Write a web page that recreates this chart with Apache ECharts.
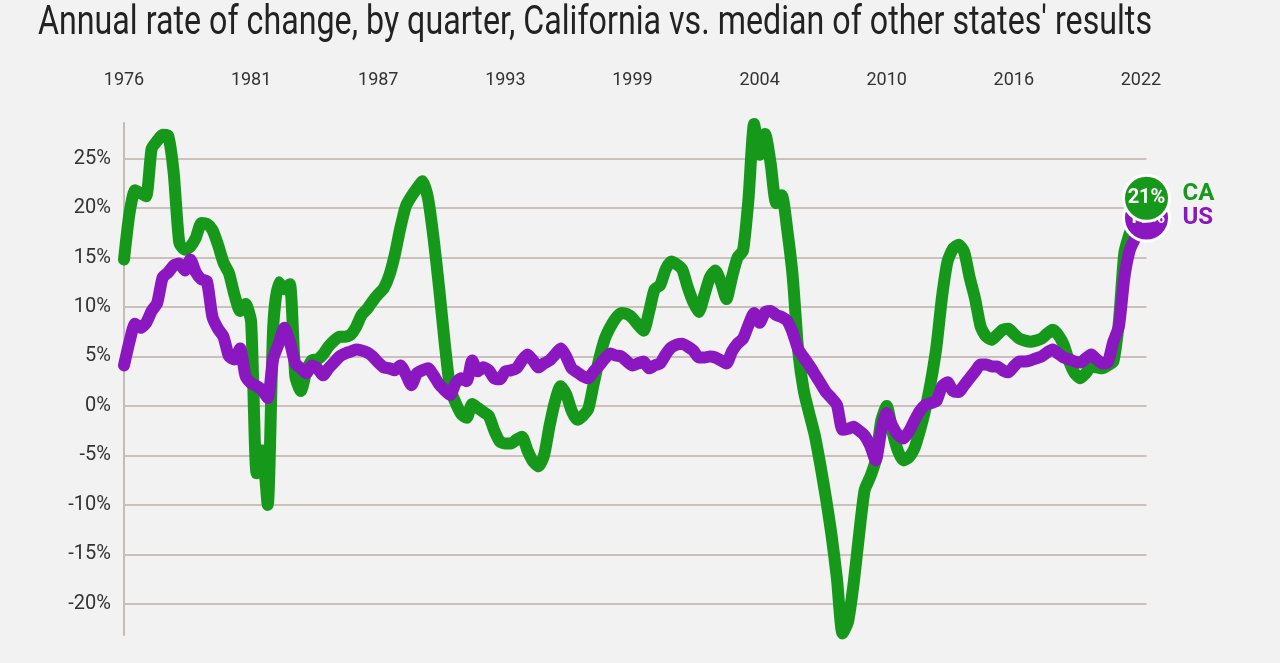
<!DOCTYPE html>
<html>
<head>
<meta charset="utf-8">
<script src="https://cdn.jsdelivr.net/npm/echarts@6/dist/echarts.min.js"></script>
<style>
  html, body { margin: 0; padding: 0; background: #f2f2f2; }
  #chart { width: 1280px; height: 663px; }
</style>
</head>
<body>
<div id="chart"></div>
<script>
// quarterly, 1976 Q1 .. 2022 Q2
const firstYear = 1976;
const quarterCount = 186;
const quarters = [];
for (let i = 0; i < quarterCount; i++) {
    quarters.push((firstYear + Math.floor(i / 4)) + ' Q' + (i % 4 + 1));
}

// California, annual % change
const caValues = [
    14.8, 19.5, 21.8, 21.5, 21.2, 26.0, 26.8, 27.4, 27.3, 23.5,
    16.5, 15.8, 16.1, 17.0, 18.5, 18.4, 17.8, 16.3, 14.5, 13.4,
    11.2, 9.6, 10.3, 8.5, -6.8, -4.5, -10.0, 8.0, 12.5, 11.8,
    12.3, 3.0, 1.5, 3.5, 4.6, 4.7, 5.2, 6.0, 6.6, 7.0,
    7.0, 7.2, 8.0, 9.2, 9.8, 10.6, 11.3, 11.9, 13.2, 15.3,
    18.0, 20.2, 21.2, 22.0, 22.7, 21.0, 17.0, 12.0, 6.5, 1.8,
    0.3, -0.8, -1.2, 0.2, -0.2, -0.6, -1.0, -2.5, -3.6, -3.8,
    -3.8, -3.4, -3.1, -4.5, -5.6, -6.1, -5.0, -2.0, 0.5, 2.0,
    1.2, -0.5, -1.4, -1.0, -0.3, 2.3, 4.8, 6.8, 8.0, 8.9,
    9.4, 9.3, 8.9, 8.2, 7.6, 9.5, 11.8, 12.2, 13.8, 14.6,
    14.3, 13.8, 12.0, 10.5, 9.5, 11.2, 13.0, 13.7, 12.5, 10.8,
    13.0, 15.0, 15.7, 21.0, 28.5, 25.4, 27.5, 24.5, 20.5, 21.3,
    17.8, 13.0, 5.5, 1.5, -0.8, -3.0, -6.0, -9.3, -13.0, -17.5,
    -23.0, -21.8, -18.0, -13.0, -8.5, -7.2, -5.5, -1.5, 0.0, -2.5,
    -4.5, -5.5, -5.2, -4.3, -2.5, -0.3, 2.5, 6.0, 11.0, 14.6,
    15.9, 16.3, 15.6, 13.0, 10.8, 8.0, 7.0, 6.7, 7.2, 7.7,
    7.8, 7.3, 6.8, 6.6, 6.5, 6.6, 6.8, 7.3, 7.7, 7.2,
    6.2, 4.5, 3.3, 2.8, 3.3, 4.0, 3.9, 3.8, 4.1, 4.5,
    8.5, 15.5, 17.5, 19.0, 20.2, 21.0
];

// median of other states, annual % change
const usValues = [
    4.1, 6.5, 8.3, 7.9, 8.4, 9.6, 10.4, 13.0, 13.5, 14.2,
    14.4, 13.7, 14.8, 13.5, 12.8, 12.6, 9.0, 7.8, 7.0, 5.0,
    4.7, 5.8, 3.0, 2.3, 2.0, 1.6, 0.8, 4.8, 6.3, 7.9,
    6.5, 4.3, 3.8, 3.3, 4.1, 3.8, 3.1, 3.8, 4.4, 5.0,
    5.3, 5.5, 5.7, 5.6, 5.4, 5.0, 4.4, 3.9, 3.8, 3.6,
    4.1, 3.2, 2.1, 3.3, 3.6, 3.8, 3.1, 2.2, 1.6, 1.1,
    2.3, 2.8, 2.5, 4.6, 3.5, 3.9, 3.6, 2.8, 2.7, 3.5,
    3.6, 3.8, 4.6, 5.2, 4.6, 3.9, 4.3, 4.6, 5.2, 5.8,
    5.0, 3.8, 3.4, 3.0, 2.8, 3.5, 4.1, 4.8, 5.3, 5.1,
    5.0, 4.5, 4.1, 4.3, 4.5, 3.8, 4.1, 4.3, 5.2, 5.9,
    6.2, 6.3, 6.0, 5.6, 4.9, 4.9, 5.0, 4.9, 4.6, 4.3,
    5.5, 6.3, 6.8, 8.2, 9.4, 8.4, 9.5, 9.6, 9.2, 9.0,
    8.6, 7.4, 5.7, 4.9, 4.1, 3.2, 2.3, 1.4, 0.8, 0.1,
    -2.4, -2.3, -2.1, -2.5, -3.0, -4.0, -5.5, -2.5, -0.7, -2.0,
    -2.9, -3.3, -2.6, -1.5, -0.5, 0.1, 0.3, 0.5, 2.0, 2.4,
    1.5, 1.4, 2.1, 2.8, 3.5, 4.2, 4.2, 4.0, 4.0, 3.6,
    3.4, 4.0, 4.5, 4.5, 4.6, 4.8, 5.0, 5.4, 5.7, 5.3,
    4.9, 4.7, 4.5, 4.4, 4.8, 5.2, 4.7, 4.3, 4.4, 6.5,
    8.0, 13.0, 15.8, 17.0, 18.0, 19.0
];

const gridValues = [-20, -15, -10, -5, 0, 5, 10, 15, 20, 25];
const yMin = -23.15;
const yMax = 28.6;

const titleText = "Annual rate of change, by quarter, California vs. median of other states' results";

const green = '#16991a';
const purple = '#8a17bf';
const gridColor = '#cbc1bc';

// squeeze the title to look like the condensed face of the original
const titleFont = '400 40px Roboto';
const ctx = document.createElement('canvas').getContext('2d');
ctx.font = titleFont;
const titleScale = 1114 / ctx.measureText(titleText).width;

const last = quarterCount - 1;

function endMarker(values, color, z) {
    return {
        symbol: 'circle',
        symbolSize: 46,
        silent: true,
        z: z,
        itemStyle: { color: color, borderColor: '#ffffff', borderWidth: 3 },
        label: {
            show: true,
            position: 'inside',
            color: '#ffffff',
            fontFamily: 'Roboto',
            fontWeight: 'bold',
            fontSize: 20,
            formatter: Math.round(values[last]) + '%'
        },
        data: [{ coord: [last, values[last]] }]
    };
}

const chart = echarts.init(document.getElementById('chart'));
chart.setOption({
    backgroundColor: '#f2f2f2',
    animation: false,
    textStyle: { fontFamily: 'Roboto' },
    graphic: [{
        type: 'text',
        left: 38,
        top: 4,
        scaleX: titleScale,
        style: {
            text: titleText,
            font: titleFont,
            fill: '#222222'
        }
    }],
    grid: { left: 124, right: 133.5, top: 123, bottom: 28 },
    xAxis: {
        type: 'category',
        position: 'top',
        data: quarters,
        boundaryGap: false,
        axisLine: { show: false },
        axisTick: { show: false },
        splitLine: { show: false },
        axisLabel: {
            interval: 22,
            margin: 34,
            fontSize: 18,
            color: '#333333',
            formatter: function (v) { return v.slice(0, 4); }
        }
    },
    yAxis: {
        type: 'value',
        min: yMin,
        max: yMax,
        axisLine: { show: true, lineStyle: { color: '#c4bcb6', width: 2 } },
        axisTick: { show: false },
        splitLine: { show: false },
        axisLabel: {
            customValues: gridValues,
            margin: 13,
            fontSize: 20,
            color: '#333333',
            formatter: function (v) { return v + '%'; }
        }
    },
    series: [
        {
            name: 'CA',
            type: 'line',
            data: caValues,
            showSymbol: false,
            smooth: 0.2,
            lineStyle: { color: green, width: 12, cap: 'round', join: 'round' },
            itemStyle: { color: green },
            markLine: {
                silent: true,
                z: 1,
                symbol: ['none', 'none'],
                label: { show: false },
                lineStyle: { color: gridColor, width: 2, type: 'solid' },
                data: gridValues.map(function (v) { return { yAxis: v }; })
            },
            markPoint: endMarker(caValues, green, 12),
            endLabel: {
                show: true,
                formatter: 'CA',
                distance: 36,
                offset: [0, -4],
                color: green,
                fontWeight: 'bold',
                fontSize: 24
            }
        },
        {
            name: 'US',
            type: 'line',
            data: usValues,
            showSymbol: false,
            smooth: 0.2,
            lineStyle: { color: purple, width: 12, cap: 'round', join: 'round' },
            itemStyle: { color: purple },
            markPoint: endMarker(usValues, purple, 11),
            endLabel: {
                show: true,
                formatter: 'US',
                distance: 36,
                offset: [0, 0],
                color: purple,
                fontWeight: 'bold',
                fontSize: 24
            }
        }
    ]
});
</script>
</body>
</html>
